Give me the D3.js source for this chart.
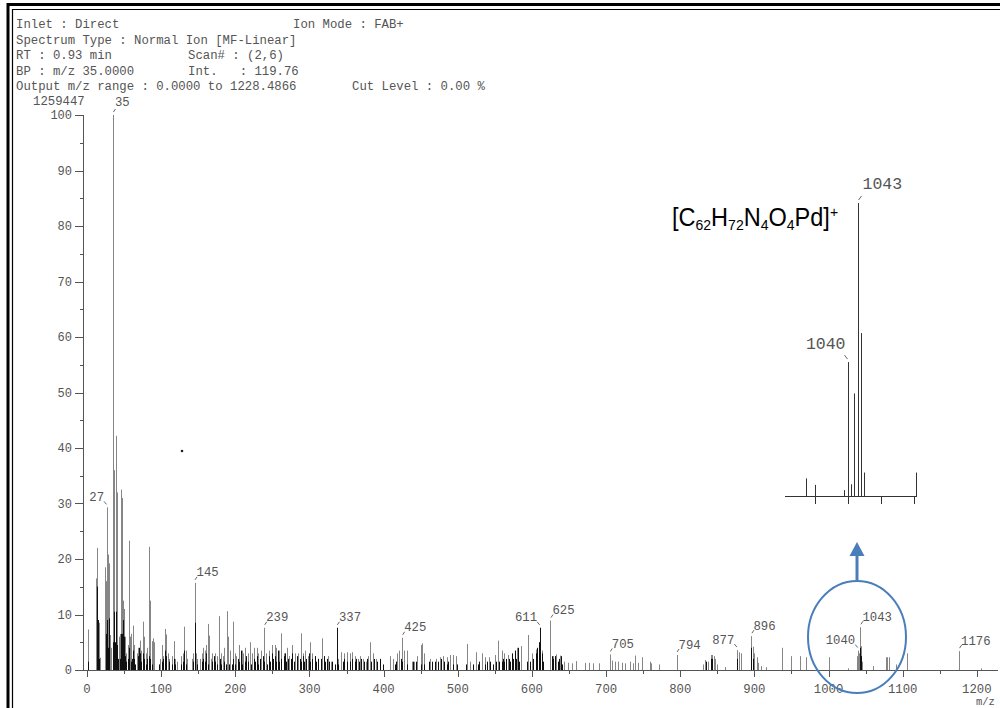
<!DOCTYPE html>
<html><head><meta charset="utf-8">
<script src="https://cdn.jsdelivr.net/npm/d3@7"></script>
<style>html,body{margin:0;padding:0;background:#fff;} svg{display:block;}</style>
</head><body>
<svg id="c" width="1000" height="708"></svg>
<script>
// ---------------- DATA ----------------
const headerLines = [
  "Inlet : Direct",
  "Spectrum Type : Normal Ion [MF-Linear]",
  "RT : 0.93 min",
  "BP : m/z 35.0000",
  "Output m/z range : 0.0000 to 1228.4866"
];
const headerExtra = ["Ion Mode : FAB+", "Scan# : (2,6)", "Int.   : 119.76", "Cut Level : 0.00 %"];
const basePeakAbs = "1259447";
const mzRange = [0, 1228.4866];
const xTicks = [0,100,200,300,400,500,600,700,800,900,1000,1100,1200];
const xMinor = [50,150,250,350,450,550,650,750,850,950,1050,1150];
const yTicks = [0,10,20,30,40,50,60,70,80,90,100];
const yMinor = [5,15,25,35,45,55,65,75,85,95];

// grey (lighter) spectrum lines [m/z, relative intensity %]
const peaksLight = [
[1,7.3],[2,6.5],[12,16.5],[13,22],[14,18.5],[16,8.5],[18,2.2],[24,18.5],[25,16],[26,9],[27,29.3],[28,20.8],[29,19.2],[31,6.3],[32,4],
[35,100],[36,12],[37,36],[39,42.2],[41,32],[43,6],[45,6.5],[46,32.5],[47,31],[49,12.5],[50,11],[51,6],[53,3],[55,4.5],[57,23.3],[58,6],
[60,6.5],[62,8],[63,4.5],[67,3],[69,4],[71,5.3],[73,3.5],[75,8.7],[77,6],[79,3],[81,4],[83,22.2],[85,12.5],[87,5.2],[89,5.7],[91,5],
[99,2],[101,4.5],[103,2.5],[105,7.4],[107,6.4],[109,3],[111,2],[115,2.5],[117,5.2],[119,2],[121,1.5],[127,2.5],[129,3],[131,7.8],[133,3.5],
[135,2],[141,2],[143,3],[145,15.7],[147,3],[149,2],[153,2],[155,3],[157,4],[159,3.5],[161,4.5],[163,8.3],[164,6.2],[167,2],[169,3],[173,3],
[175,2.5],[178,9.7],[181,3],[183,2.5],[185,4],[189,10.6],[190,6],[193,3.5],[197,8.7],[199,3],[201,2.5],[205,4.5],[209,3.5],[211,3],[213,4],
[217,3],[220,5],[223,3],[225,4],[229,4],[231,3],[235,3.5],[239,7.6],[242,3],[246,3.5],[250,4.5],[253,4.5],[255,4],[259,3.5],[262,6.6],
[266,3],[270,4],[273,2.5],[276,4.5],[280,3],[284,3],[288,6.6],[291,3],[294,3.5],[298,2.5],[301,5],[304,3],[307,2.5],[311,2],[317,5.7],
[320,2],[325,2.5],[329,1.5],[337,7.6],[339,2],[343,3.2],[347,3],[350,3.2],[354,3],[357,3.2],[361,2.5],[365,2],[368,2.5],[372,2],[376,1.5],
[379,2.5],[382,5],[386,3],[390,2],[395,1.5],[408,2.5],[413,2],[418,3],[421,3.5],[425,5.8],[428,3.5],[431,3.5],[438,1.5],[441,1.5],[445,2.5],
[450,4.5],[452,4.8],[455,3],[463,2],[470,2],[476,2.3],[480,2.5],[485,2.3],[490,2.7],[494,2.7],[498,2.5],[512,4.7],[517,1.5],[524,3.2],
[532,3],[537,2.3],[542,2.3],[550,2.7],[554,5.3],[560,3.5],[563,3],[568,2.7],[573,2.7],[577,3.3],[580,4],[585,4.3],[595,6.3],[600,3],
[605,3.7],[609,5],[611,7.6],[613,3.5],[625,8.9],[628,2.5],[632,2.8],[638,2.6],[643,1.5],[649,1.3],[654,1.2],[660,1.6],[672,1.3],[677,1.3],
[683,1.2],[691,1.2],[705,2.8],[708,1.7],[712,1.5],[716,1.5],[721,1.3],[726,1.2],[732,1.5],[736,1.2],[739,2.6],[743,1.3],[748,2.3],[759,1.5],
[760,1.2],[772,1],[795,2.7],[831,1],[833,1.8],[837,1.5],[841,2.7],[843,2.7],[845,2.5],[847,2],[849,1],[860,0.5],[877,3.6],[879,3.2],
[882,3],[896,6.1],[898,4.2],[900,3],[903,2.3],[905,1.3],[909,0.7],[916,0.5],[937,4],[950,2.5],[961,2.5],[970,2.3],[1000,2.3],[1026,0.3],
[1038,2.5],[1040,3.5],[1041,3],[1042,2.8],[1043,7.7],[1044,4.3],[1045,1.5],[1060,0.7],[1077,2.3],[1079,2.3],[1081,2.3],[1091,1],[1106,3],
[1176,3.4],[1205,0.3]
];
// dark (black) spectrum lines [m/z, relative intensity %]
const peaksDark = [
[1,1.5],[13,15],[14,15],[15,9],[16,2],[26,6.5],[27,9],[28,4],[29,9.3],[30,3],[35,5],[37,10.5],[38,5],[39,10.5],[40,4.5],[42,2],[44,2],
[46,6.5],[47,6.5],[48,9],[49,3],[50,6],[51,2.5],[52,1.5],[55,2],[56,1],[57,4],[59,1.5],[61,2],[62,3.5],[63,2],[65,1],[69,2.5],[70,4],
[71,3],[73,1.5],[75,3],[77,2],[79,1],[81,2],[83,2.5],[85,2],[87,1],[97,1],[101,1.5],[103,2],[105,3.5],[107,2.5],[111,1.5],[115,1],[117,2],
[119,1],[127,1],[129,1.5],[131,3.5],[133,1],[143,1.5],[145,8.5],[146,2],[149,1],[155,1.5],[157,2],[159,1.5],[161,3],[163,1],[169,1.5],
[171,2.5],[173,1.5],[175,1],[179,2],[181,1],[185,1.5],[187,1],[191,1],[195,1],[197,2],[199,1],[203,2],[205,1.5],[207,3.5],[209,1],[213,1.5],
[215,2.5],[217,1.5],[221,1],[225,2],[227,1.5],[229,2.5],[231,1],[233,2],[237,2.5],[239,1.5],[243,1],[245,2.5],[247,1.5],[249,3],[251,2],
[253,2.5],[255,1.5],[257,3.5],[259,1.5],[261,2],[265,2.5],[267,3],[269,1.5],[271,2],[275,2],[277,3],[279,1.5],[283,2.5],[287,2],[289,1.5],
[291,2.5],[293,1.5],[295,2],[299,3],[301,1.5],[303,2],[307,2.5],[309,1.5],[311,2],[315,2],[319,2.5],[321,1.5],[323,2],[327,1.5],[331,1.5],
[335,1],[337,7.6],[339,1],[345,1.5],[347,2],[351,1.5],[355,1.5],[357,2],[361,1.5],[363,2],[367,1.5],[369,2],[373,1.5],[377,2],[383,1.5],
[387,2],[391,1.5],[395,2],[399,1],[415,1],[417,1.5],[423,2],[425,1.5],[431,1],[439,1.5],[443,1.5],[451,1],[455,1],[461,1.5],[465,1.5],
[469,1.5],[473,1.5],[477,2],[481,1.5],[485,1],[487,1.5],[493,1],[499,1],[511,1],[521,1],[527,1],[529,1.5],[537,1],[539,1.5],[543,1.5],
[547,1],[551,1.5],[555,1.5],[559,1.5],[561,2],[563,1.5],[565,2],[569,2],[571,1.5],[573,3],[575,2],[577,3.5],[579,2],[581,4],[583,1.5],
[593,1.5],[597,1.5],[601,2],[605,3],[607,4],[609,5],[611,7.6],[613,3],[615,1.5],[627,2.5],[629,2],[631,2.5],[635,1.5],[637,2],[639,2.5],
[641,1],[835,1.5],[841,2],[843,2],[877,2],[896,4],[898,2],[1042,2],[1043,4],[1044,2.5]
];
// labelled peaks [m/z, intensity, label, side]
const peakLabels = [
[35,100,"35","R"],[27,29.3,"27","L"],[145,15.7,"145","R"],[239,7.6,"239","R"],[337,7.6,"337","R"],[425,5.8,"425","R"],
[611,7.6,"611","L"],[625,8.9,"625","R"],[705,2.8,"705","R"],[795,2.7,"794","R"],[877,3.6,"877","L"],[896,6.1,"896","R"],
[1040,3.5,"1040","L"],[1043,7.7,"1043","R"],[1176,3.4,"1176","R"]
];
// expanded isotope cluster (inset) [m/z, relative intensity %]
const insetRange = [1021, 1061];
const insetTicks = [1030, 1040, 1050, 1060];
const insetPeaks = [[1027.5,6],[1030,3.8],[1039,2],[1040,45.7],[1041,4],[1042,35],[1043,100],[1044,55.6],[1045,8],[1060.8,8]];
const insetLabels = [[1040,45.7,"1040","L"],[1043,100,"1043","R"]];

// ---------------- DRAW ----------------
const svg = d3.select("#c");
const MONO = "'Liberation Mono', 'DejaVu Sans Mono', monospace";
const TXT = "#555";
svg.append("rect").attr("width",1000).attr("height",708).attr("fill","#fff");

// frame (double border)
const fr = svg.append("g").attr("fill","none").attr("stroke","#000");
fr.append("path").attr("d","M8,708 V4.5 H1000").attr("stroke-width",3);
fr.append("path").attr("d","M12.5,708 V9.5 H1000").attr("stroke-width",1.2);

const x = d3.scaleLinear().domain(mzRange).range([87, 998]);
const y = d3.scaleLinear().domain([0,100]).range([670, 115]);
const px = v => Math.round(x(v)) + 0.5;

// header
const hd = svg.append("g").attr("font-family", MONO).attr("font-size", 12.3).attr("fill", TXT);
const lineY = [28, 43.5, 59, 74.5, 90];
headerLines.forEach((t,i)=> hd.append("text").attr("x",16).attr("y",lineY[i]).text(t).attr("xml:space","preserve"));
hd.append("text").attr("x",293).attr("y",lineY[0]).text(headerExtra[0]);
hd.append("text").attr("x",188).attr("y",lineY[2]).text(headerExtra[1]);
hd.append("text").attr("x",188).attr("y",lineY[3]).attr("xml:space","preserve").text(headerExtra[2]);
hd.append("text").attr("x",352).attr("y",lineY[4]).text(headerExtra[3]);
hd.append("text").attr("x",33).attr("y",105).text(basePeakAbs);

// y axis
const ax = svg.append("g").attr("stroke","#555").attr("stroke-width",1);
ax.append("line").attr("x1",83.5).attr("x2",83.5).attr("y1",y(100)).attr("y2",y(0));
ax.selectAll(".yt").data(yTicks).join("line").attr("x1",75).attr("x2",83.5)
  .attr("y1",d=>Math.round(y(d))+0.5).attr("y2",d=>Math.round(y(d))+0.5);
ax.selectAll(".ym").data(yMinor).join("line").attr("x1",80).attr("x2",83.5)
  .attr("y1",d=>Math.round(y(d))+0.5).attr("y2",d=>Math.round(y(d))+0.5);
svg.append("g").attr("font-family",MONO).attr("font-size",12).attr("fill",TXT).attr("text-anchor","end")
  .selectAll("text").data(yTicks).join("text").attr("x",72).attr("y",d=>y(d)+4).text(d=>d);

// x axis
ax.append("line").attr("x1",83).attr("x2",998).attr("y1",670.5).attr("y2",670.5);
ax.selectAll(".xt").data(xTicks).join("line").attr("x1",d=>px(d)).attr("x2",d=>px(d)).attr("y1",670).attr("y2",677);
ax.selectAll(".xm").data(xMinor).join("line").attr("x1",d=>px(d)).attr("x2",d=>px(d)).attr("y1",670).attr("y2",674);
svg.append("g").attr("font-family",MONO).attr("font-size",12.3).attr("fill",TXT).attr("text-anchor","middle")
  .selectAll("text").data(xTicks).join("text").attr("x",d=>x(d)).attr("y",693).text(d=>d);
svg.append("text").attr("font-family",MONO).attr("font-size",10.5).attr("fill",TXT).attr("x",976).attr("y",705).text("m/z");

// spectrum
svg.append("g").attr("stroke","#868686").attr("stroke-width",1)
  .selectAll("line").data(peaksLight).join("line")
  .attr("x1",d=>px(d[0])).attr("x2",d=>px(d[0])).attr("y1",y(0)).attr("y2",d=>y(d[1]));
svg.append("g").attr("stroke","#111").attr("stroke-width",1)
  .selectAll("line").data(peaksDark).join("line")
  .attr("x1",d=>px(d[0])).attr("x2",d=>px(d[0])).attr("y1",y(0)).attr("y2",d=>y(d[1]));

// peak labels
const pl = svg.append("g").attr("font-family",MONO).attr("font-size",12.3).attr("fill",TXT);
peakLabels.forEach(([m,h,t,s])=>{
  const X = x(m), T = y(h), off = (t==="35") ? 14 : 11;
  if (s==="R") {
    pl.append("text").attr("x",X+2).attr("y",T-off+4.5).text(t);
    pl.append("line").attr("x1",X+0.5).attr("y1",T-3).attr("x2",X+2.5).attr("y2",T-6).attr("stroke","#666");
  } else {
    pl.append("text").attr("x",X-3).attr("y",T-off+4.5).attr("text-anchor","end").text(t);
    pl.append("line").attr("x1",X-0.5).attr("y1",T-3).attr("x2",X-3).attr("y2",T-6).attr("stroke","#666");
  }
});

// inset
const ix = d3.scaleLinear().domain(insetRange).range([785, 917]);
const iy = d3.scaleLinear().domain([0,100]).range([496, 203]);
const ins = svg.append("g").attr("stroke","#333").attr("stroke-width",1);
ins.append("line").attr("x1",785).attr("x2",917).attr("y1",496.5).attr("y2",496.5);
ins.selectAll(".it").data(insetTicks).join("line").attr("x1",d=>Math.round(ix(d))+0.5).attr("x2",d=>Math.round(ix(d))+0.5)
  .attr("y1",496).attr("y2",504);
ins.selectAll(".ip").data(insetPeaks).join("line").attr("x1",d=>Math.round(ix(d[0]))+0.5).attr("x2",d=>Math.round(ix(d[0]))+0.5)
  .attr("y1",496.5).attr("y2",d=>iy(d[1]));
const il = svg.append("g").attr("font-family",MONO).attr("font-size",16.5).attr("fill",TXT);
insetLabels.forEach(([m,h,t,s])=>{
  const X = Math.round(ix(m))+0.5, T = iy(h);
  if (s==="R") {
    il.append("text").attr("x",X+4).attr("y",T-14).text(t);
    il.append("line").attr("x1",X).attr("y1",T-3).attr("x2",X+3).attr("y2",T-7).attr("stroke","#666");
  } else {
    il.append("text").attr("x",X-3).attr("y",T-13).attr("text-anchor","end").text(t);
    il.append("line").attr("x1",X-1).attr("y1",T-3).attr("x2",X-4).attr("y2",T-7).attr("stroke","#666");
  }
});

// formula
const f = svg.append("text").attr("transform","translate(672,226) scale(0.905,1)")
  .attr("font-family","'Liberation Sans', Arial, sans-serif").attr("font-size",26).attr("fill","#000");
[["[C",0],["62",1],["H",0],["72",1],["N",0],["4",1],["O",0],["4",1],["Pd]",0],["+",2]].reduce((prev,[t,k])=>{
  const ts = f.append("tspan").text(t);
  const shift = k===1 ? 4 : (k===2 ? -9 : 0);
  ts.attr("dy", shift - prev).attr("font-size", k===0 ? 26 : 15.5);
  return shift;
},0);

// highlight ellipse and arrow
const blue = "#4a7ebb";
svg.append("ellipse").attr("cx",857).attr("cy",637).attr("rx",49).attr("ry",56)
  .attr("fill","none").attr("stroke",blue).attr("stroke-width",2);
svg.append("line").attr("x1",857).attr("x2",857).attr("y1",581).attr("y2",555).attr("stroke",blue).attr("stroke-width",3);
svg.append("path").attr("d","M849.5,556 L857,542 L864.5,556 Z").attr("fill",blue);

// small stray mark in the scan
svg.append("circle").attr("cx",182).attr("cy",451).attr("r",1.3).attr("fill","#222");
</script>
</body></html>
